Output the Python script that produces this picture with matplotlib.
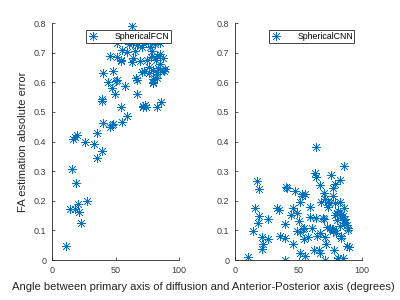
import matplotlib
matplotlib.use("Agg")
import matplotlib.pyplot as plt

plt.rcParams['font.family'] = ['Liberation Sans', 'DejaVu Sans']

# SphericalFCN: angle (deg) vs FA absolute error
fcn_angle = [63, 82, 51.4, 54.8, 58.8, 45.7, 50.9, 54.1, 54.5, 64, 63, 69.3, 65.3, 70.6, 71.9,
             77.2, 78.5, 74.5, 77.7, 82.4, 85, 87.7, 81.9, 85, 81.1, 75.8, 64, 66.6, 60.9,
             40.4, 48.3, 44.3, 50.9, 50.5, 47.5, 49.6, 57.5, 39.1, 39.1, 54.1, 66.7, 66.1, 67,
             70.6, 72.5, 76.6, 76.6, 79.8, 82.4, 82.4, 79.3, 79.3, 79.8, 83.5, 89, 88.2, 85,
             71.9, 74, 71.3, 82.4, 85.8, 40.4, 47, 48.3, 45.7, 54.9, 58.8, 18.1, 19.9, 16.8,
             26, 33.3, 35.7, 39.4, 35.2, 15.5, 18.9, 27.3, 20.2, 14.2, 18.1, 21.5, 23.1, 10.8,
             82.4, 87.7, 73.2]
fcn_err = [0.79, 0.76, 0.734, 0.709, 0.704, 0.690, 0.687, 0.676, 0.671, 0.681, 0.67, 0.672, 0.705, 0.72, 0.733,
           0.72, 0.705, 0.676, 0.685, 0.688, 0.696, 0.681, 0.676, 0.732, 0.728, 0.735, 0.734, 0.726, 0.73,
           0.633, 0.639, 0.602, 0.608, 0.604, 0.580, 0.560, 0.586, 0.543, 0.538, 0.518, 0.561, 0.614, 0.609,
           0.636, 0.638, 0.653, 0.631, 0.642, 0.629, 0.614, 0.612, 0.597, 0.601, 0.647, 0.644, 0.639, 0.662,
           0.520, 0.518, 0.516, 0.518, 0.535, 0.464, 0.456, 0.459, 0.450, 0.465, 0.486, 0.414, 0.422, 0.410,
           0.400, 0.393, 0.430, 0.368, 0.343, 0.306, 0.259, 0.199, 0.189, 0.171, 0.173, 0.161, 0.126, 0.047,
           0.636, 0.64, 0.524]

# SphericalCNN
cnn_angle = [64, 10.5, 14.5, 15.8, 17.6, 19.2, 18.4, 19.2, 21, 22.4, 21.6, 26.3, 26.3, 32.9, 35,
             35.5, 39.5, 39.5, 39.5, 40.3, 41.3, 44, 45.5, 46, 47.4, 48.7, 49.2, 50, 50.8, 51.3,
             51.3, 52.6, 55.2, 52.6, 53.4, 54.5, 54.7, 55.2, 57.1, 59.2, 59.2, 60.5, 62.4, 63.1,
             63.9, 63.9, 64.5, 65.8, 66.6, 66.6, 67.1, 67.6, 69.2, 69.7, 70.5, 70.2, 71, 71.8, 71,
             72.4, 73.2, 74.4, 73.6, 75, 75.8, 76, 76.8, 77.2, 77.1, 77.1, 77.6, 78.9, 78.9, 78.9,
             80.3, 79.7, 80.3, 80.8, 80.3, 80.8, 82.3, 82.3, 82.6, 83.6, 84.7, 82.9, 83.4, 83.4,
             84.7, 85.5, 86, 87, 88, 88.6, 89, 88.2, 89.4, 85.5, 85.8]
cnn_err = [0.383, 0.011, 0.098, 0.177, 0.267, 0.24, 0.126, 0.150, 0.077, 0.053, 0.037, 0.07, 0.138, 0.177, 0.169,
           0.081, 0.075, 0.122, 0.0, 0.248, 0.242, 0.152, 0.175, 0.056, 0.233, 0.160, 0.098, 0.133, 0.197, 0.096,
           0.025, 0.222, 0.222, 0.215, 0.105, 0.109, 0.071, 0.014, 0.077, 0.178, 0.146, 0.109, 0.034, 0.295,
           0.281, 0.141, 0.081, 0.034, 0.023, 0.253, 0.090, 0.197, 0.143, 0.14, 0.205, 0.228, 0.079, 0.053, 0.002,
           0.113, 0.197, 0.192, 0.180, 0.109, 0.287, 0.105, 0.097, 0.101, 0.216, 0.242, 0.034, 0.256, 0.192, 0.152,
           0.158, 0.09, 0.0, 0.006, 0.137, 0.166, 0.27, 0.197, 0.152, 0.157, 0.15, 0.115, 0.081, 0.075,
           0.008, 0.318, 0.175, 0.14, 0.12, 0.11, 0.10, 0.047, 0.045, 0.135, 0.125]

blue = '#0072BD'
axcol = '#262626'
star = (8, 2, 0)

fig = plt.figure(figsize=(4, 3), dpi=100)
ax1 = fig.add_axes([0.13, 0.133, 0.3175, 0.79])
ax2 = fig.add_axes([0.5875, 0.133, 0.3175, 0.79])

for ax, xs, ys, name in [(ax1, fcn_angle, fcn_err, 'SphericalFCN'),
                         (ax2, cnn_angle, cnn_err, 'SphericalCNN')]:
    ax.plot(xs, ys, linestyle='none', marker=star, markersize=6.5,
            markeredgewidth=0.45, color=blue, label=name)
    ax.set_xlim(0, 100)
    ax.set_ylim(0, 0.8)
    ax.set_xticks([0, 50, 100])
    ax.set_yticks([0, 0.1, 0.2, 0.3, 0.4, 0.5, 0.6, 0.7, 0.8])
    ax.set_yticklabels(['0', '0.1', '0.2', '0.3', '0.4', '0.5', '0.6', '0.7', '0.8'])
    ax.spines['top'].set_visible(False)
    ax.spines['right'].set_visible(False)
    for s in ('left', 'bottom'):
        ax.spines[s].set_color(axcol)
        ax.spines[s].set_linewidth(0.6)
    ax.tick_params(direction='in', length=2.5, width=0.6, colors='#404040',
                   labelsize=6.5, pad=4)
    leg = ax.legend(loc='lower left', bbox_to_anchor=(0.27, 0.917, 0.67, 0.05),
                    mode='expand', borderaxespad=0, fancybox=False, framealpha=1,
                    edgecolor=axcol, fontsize=6.3, handlelength=1.2,
                    handletextpad=1.8, borderpad=0.2)
    leg.get_frame().set_linewidth(0.6)

ax1.set_ylabel('FA estimation absolute error', fontsize=8.1, color=axcol, labelpad=4)
fig.text(0.03, 0.043, 'Angle between primary axis of diffusion and Anterior-Posterior axis (degrees)',
         fontsize=8.1, color=axcol, ha='left', va='center')

fig.savefig('out.png', dpi=100)
